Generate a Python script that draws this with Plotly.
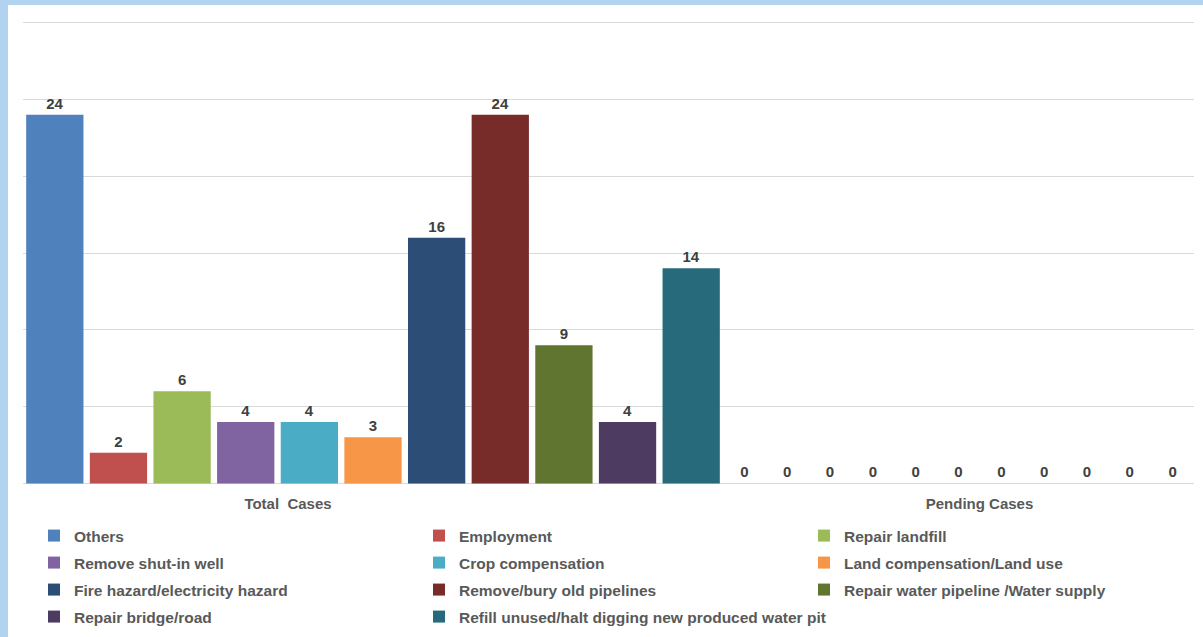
import plotly.graph_objects as go
from plotly.subplots import make_subplots

# Grievance categories and case counts
categories = ["Total  Cases", "Pending Cases"]
series_names = [
    "Others",
    "Employment",
    "Repair landfill",
    "Remove shut-in well",
    "Crop compensation",
    "Land compensation/Land use",
    "Fire hazard/electricity hazard",
    "Remove/bury old pipelines",
    "Repair water pipeline /Water supply",
    "Repair bridge/road",
    "Refill unused/halt digging new produced water pit",
]
total_cases = [24, 2, 6, 4, 4, 3, 16, 24, 9, 4, 14]
pending_cases = [0, 0, 0, 0, 0, 0, 0, 0, 0, 0, 0]

colors = [
    "#4F81BD", "#C0504D", "#9BBB59", "#8064A2", "#4BACC6", "#F79646",
    "#2C4D75", "#772C2A", "#5F7530", "#4D3B62", "#276A7C",
]
# legend row each series sits in (three entries per row)
legend_rows = ["legend", "legend", "legend",
               "legend2", "legend2", "legend2",
               "legend3", "legend3", "legend3",
               "legend4", "legend4"]

W, H = 1203, 637
ML, MR, MT, MB = 23, 9, 21, 152
PW, PH = W - ML - MR, H - MT - MB


def px_x(px):
    return (px - ML) / PW


def px_y(py):
    return (H - MB - py) / PH


FONT = "Liberation Sans, Arial, sans-serif"

fig = make_subplots(rows=1, cols=2, shared_yaxes=True, horizontal_spacing=0)

for i, name in enumerate(series_names):
    common = dict(
        name=name,
        marker=dict(color=colors[i], line=dict(width=0)),
        texttemplate="%{y}",
        textposition="outside",
        textfont=dict(family=FONT, size=15, color="#404040", weight="bold"),
        constraintext="none",
        cliponaxis=False,
        legendgroup=name,
        legend=legend_rows[i],
        hoverinfo="skip",
    )
    # last entry of a row may run wider than the column pitch
    extra = dict(legendwidth=400) if i == len(series_names) - 1 else {}
    fig.add_trace(go.Bar(x=[categories[0]], y=[total_cases[i]], showlegend=True,
                         **common, **extra),
                  row=1, col=1)
    fig.add_trace(go.Bar(x=[categories[1]], y=[pending_cases[i]], showlegend=False, **common),
                  row=1, col=2)

split = px_x(723)
axis_font = dict(family=FONT, size=15, color="#595959", weight="bold")
fig.update_xaxes(showgrid=False, zeroline=False, showline=False, ticks="",
                 tickfont=axis_font, ticklabelstandoff=8)
fig.update_layout(
    xaxis=dict(domain=[0, split], ticklabelshift=-85),
    xaxis2=dict(domain=[split, 1], ticklabelshift=21),
)
# a little headroom so the 0 and 30 grid lines are kept
fig.update_yaxes(range=[-0.1, 30.1], dtick=5, tick0=0, showticklabels=False,
                 showgrid=True, gridcolor="#D9D9D9", gridwidth=1,
                 zeroline=False, showline=False)

legend_font = dict(family=FONT, size=15.5, color="#595959", weight="bold")
legend_common = dict(orientation="h", xref="paper", yref="paper", x=px_x(34),
                     xanchor="left", yanchor="middle", entrywidth=340,
                     entrywidthmode="pixels", font=legend_font,
                     bgcolor="rgba(0,0,0,0)", borderwidth=0, traceorder="normal")
row_centres = [536, 563, 590, 617]
fig.update_layout(
    legend=dict(y=px_y(row_centres[0]), **legend_common),
    legend2=dict(y=px_y(row_centres[1]), **legend_common),
    legend3=dict(y=px_y(row_centres[2]), **legend_common),
    legend4=dict(y=px_y(row_centres[3]), **legend_common),
)

# white card on a light blue frame
fig.add_shape(type="rect", xref="paper", yref="paper", layer="below",
              x0=px_x(8), x1=px_x(W + 2), y0=px_y(H + 3), y1=px_y(5),
              fillcolor="white", line=dict(width=0))

fig.update_layout(
    width=W, height=H,
    margin=dict(l=ML, r=MR, t=MT, b=MB, autoexpand=False),
    paper_bgcolor="#B2D3F0",
    plot_bgcolor="rgba(0,0,0,0)",
    barmode="group",
    bargap=0,
    bargroupgap=0.1,
    font=dict(family=FONT),
)

fig.write_html("out.html")
